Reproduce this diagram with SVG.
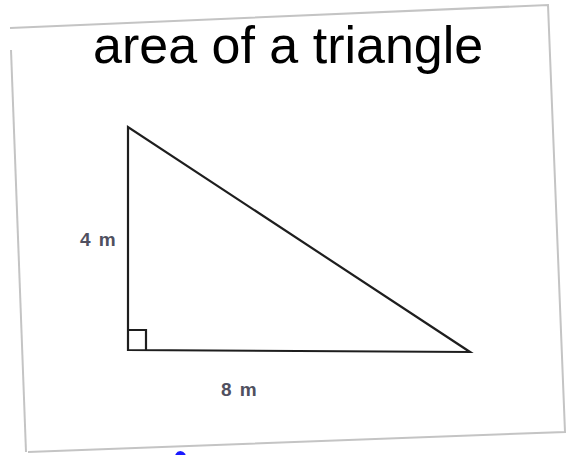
<svg xmlns="http://www.w3.org/2000/svg" width="570" height="455" viewBox="0 0 570 455">
<style>
.frame{fill:none;stroke:#c4c4c4;stroke-width:2}
.tri{fill:none;stroke:#1e1e1e;stroke-width:2.2;stroke-linejoin:miter}
.title{font-family:"Liberation Sans",Arial,sans-serif;font-size:52px;fill:#000}
.lbl{font-family:"Liberation Sans",Arial,sans-serif;font-size:19px;font-weight:bold;letter-spacing:1.5px;fill:#505060}
</style>
<rect width="570" height="455" fill="#fff"/>
<g id="frame">
<path class="frame" d="M10,28 L548,5 L565,432 L28,452"/>
<path class="frame" d="M11,50 L26,452"/>
</g>
<g id="title">
<text class="title" x="93" y="63">area of a triangle</text>
</g>
<g id="triangle">
<path class="tri" d="M128,127 L128,350 L470,352 Z"/>
<path class="tri" d="M128,330 L146,330 L146,350" stroke-width="1.8"/>
</g>
<g id="labels">
<text class="lbl" x="80" y="246">4 m</text>
<text class="lbl" x="221" y="396">8 m</text>
</g>
<path d="M176,455 Q180,449 185,455" fill="#1a1aff" stroke="#1a1aff" stroke-width="2"/>
</svg>
